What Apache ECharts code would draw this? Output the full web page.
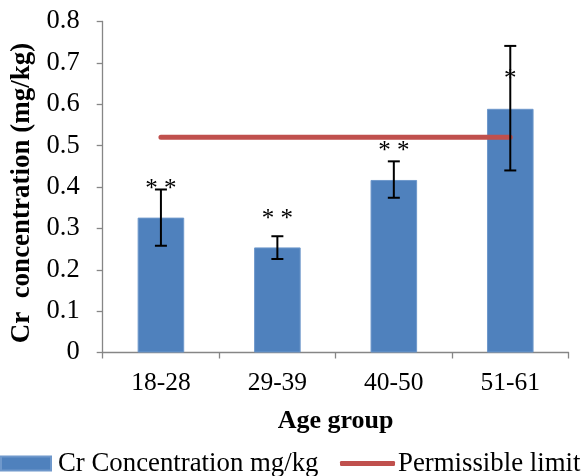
<!DOCTYPE html>
<html>
<head>
<meta charset="utf-8">
<script src="https://cdn.jsdelivr.net/npm/echarts@6/dist/echarts.min.js"></script>
<style>
html,body{margin:0;padding:0;background:#fff;}
#chart{width:582px;height:476px;}
</style>
</head>
<body>
<div id="chart"></div>
<script>
var categories = ['18-28', '29-39', '40-50', '51-61'];
var crConcentration = [0.326, 0.254, 0.417, 0.589];
var errLow = [0.258, 0.226, 0.374, 0.440];
var errHigh = [0.394, 0.281, 0.462, 0.741];
var permissibleLimit = [0.52, 0.52, 0.52, 0.52];
var starValues = [0.394, 0.322, 0.485, 0.659];
var starLabels = ['* *', '* *', '* *', '*'];
var yTicks = [0, 0.1, 0.2, 0.3, 0.4, 0.5, 0.6, 0.7, 0.8];

var FONT = 'Liberation Serif';
var chart = echarts.init(document.getElementById('chart'));

var errData = categories.map(function (c, i) { return [i, errLow[i], errHigh[i]]; });
var starData = categories.map(function (c, i) { return [i, starValues[i], starLabels[i]]; });

chart.setOption({
  animation: false,
  backgroundColor: '#ffffff',
  grid: { left: 102.7, right: 13.5, top: 21.5, bottom: 123.5 },
  legend: [
    {
      data: [{ name: 'Cr Concentration mg/kg', icon: 'rect' }],
      left: 0, top: 450, padding: 0,
      itemWidth: 50, itemHeight: 14,
      textStyle: { fontFamily: FONT, fontSize: 26.8, color: '#000', padding: [0, 0, 0, 2] }
    },
    {
      data: [{ name: 'Permissible limit', icon: 'roundRect' }],
      left: 340, top: 450, padding: 0,
      itemWidth: 55, itemHeight: 5,
      textStyle: { fontFamily: FONT, fontSize: 26.8, color: '#000', padding: [0, 0, 0, -2] }
    }
  ],
  xAxis: {
    type: 'category',
    data: categories,
    name: 'Age group',
    nameLocation: 'middle',
    nameGap: 56,
    nameTextStyle: { fontFamily: FONT, fontSize: 26, fontWeight: 'bold', color: '#000' },
    axisLine: { lineStyle: { color: '#868686', width: 1.3 } },
    axisTick: { show: true, length: 6, lineStyle: { color: '#868686', width: 1.3 } },
    axisLabel: { fontFamily: FONT, fontSize: 25.5, color: '#000', margin: 18 }
  },
  yAxis: {
    type: 'value',
    min: 0, max: 0.8, interval: 0.1,
    name: 'Cr  concentration (mg/kg)',
    nameLocation: 'middle',
    nameGap: 65,
    nameTextStyle: { fontFamily: FONT, fontSize: 27, fontWeight: 'bold', color: '#000', padding: [0, 12, 0, 0] },
    axisLine: { show: true, lineStyle: { color: '#868686', width: 1.3 } },
    axisTick: { show: true, length: 6, lineStyle: { color: '#868686', width: 1.3 } },
    splitLine: { show: false },
    axisLabel: {
      fontFamily: FONT, fontSize: 26.5, color: '#000', margin: 23,
      formatter: function (v) {
        var t = yTicks.find(function (k) { return Math.abs(k - v) < 1e-9; });
        return t === 0 ? '0' : String(t);
      }
    }
  },
  series: [
    {
      name: 'Cr Concentration mg/kg',
      type: 'bar',
      data: crConcentration,
      barWidth: '40%',
      itemStyle: { color: '#4F81BD', borderColor: '#6F98CB', borderWidth: 1 },
      z: 2
    },
    {
      name: 'Permissible limit',
      type: 'line',
      data: permissibleLimit,
      showSymbol: false,
      symbol: 'none',
      itemStyle: { color: '#C0504D' },
      lineStyle: { color: '#C0504D', width: 5, cap: 'round' },
      z: 3
    },
    {
      name: 'errors',
      type: 'custom',
      data: errData,
      z: 5,
      renderItem: function (params, api) {
        var x = api.value(0);
        var lo = api.coord([x, api.value(1)]);
        var hi = api.coord([x, api.value(2)]);
        var hw = 6;
        var st = { stroke: '#000', lineWidth: 2 };
        return {
          type: 'group',
          children: [
            { type: 'line', shape: { x1: lo[0], y1: lo[1], x2: hi[0], y2: hi[1] }, style: st },
            { type: 'line', shape: { x1: lo[0] - hw, y1: lo[1], x2: lo[0] + hw, y2: lo[1] }, style: st },
            { type: 'line', shape: { x1: hi[0] - hw, y1: hi[1], x2: hi[0] + hw, y2: hi[1] }, style: st }
          ]
        };
      }
    },
    {
      name: 'stars',
      type: 'custom',
      data: starData,
      z: 6,
      renderItem: function (params, api) {
        var p = api.coord([api.value(0), api.value(1)]);
        return {
          type: 'text',
          x: p[0], y: p[1],
          style: {
            text: starLabels[params.dataIndex],
            fontFamily: FONT, fontSize: 25, fill: '#000',
            align: 'center', verticalAlign: 'middle'
          }
        };
      }
    }
  ]
});
</script>
</body>
</html>
